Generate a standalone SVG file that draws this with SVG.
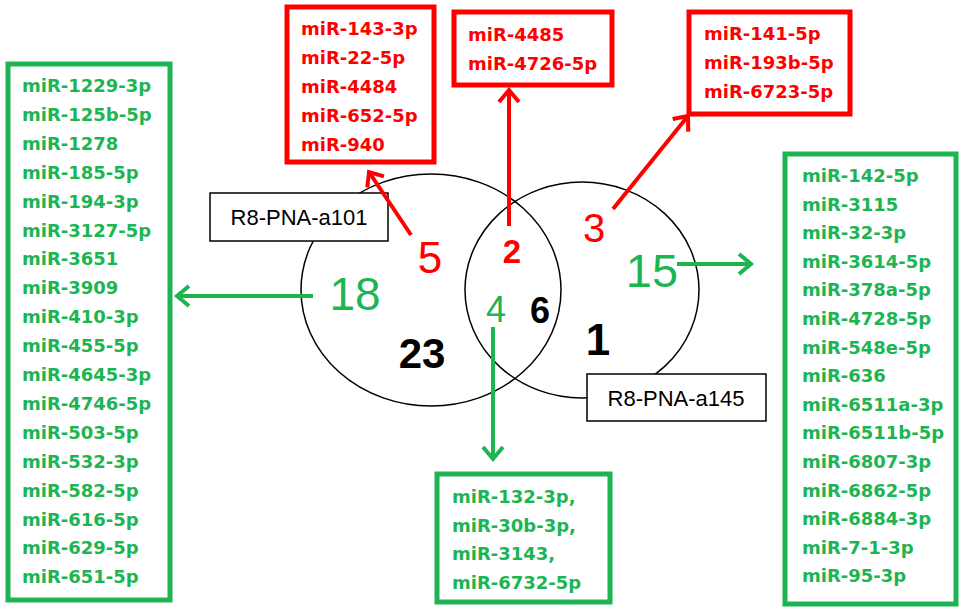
<svg xmlns="http://www.w3.org/2000/svg" width="963" height="608" viewBox="0 0 963 608">
<style>
.mir{font-family:"DejaVu Sans","Liberation Sans",sans-serif;font-weight:bold;font-size:18px}
.r{fill:#ff0000}
.g{fill:#1db452}
.rbox{fill:#ffffff;stroke:#ff0000;stroke-width:5}
.gbox{fill:#ffffff;stroke:#1db452;stroke-width:5}
.lbl{fill:#ffffff;stroke:#000000;stroke-width:1.5}
.lt{font-family:"Liberation Sans",Arial,sans-serif;font-size:22px;fill:#000000;text-anchor:middle}
.num{font-family:"Liberation Sans",Arial,sans-serif;text-anchor:middle}
.ven{fill:none;stroke:#000000;stroke-width:1.5}
.ra{stroke:#ff0000;stroke-width:4;fill:none}
.ga{stroke:#1db452;stroke-width:4;fill:none}
</style>
<defs>
<marker id="mr" viewBox="-16 -14 20 28" refX="0" refY="0" markerWidth="20" markerHeight="28" markerUnits="userSpaceOnUse" orient="auto">
<path d="M-12,-10 L0,0 L-12,10" fill="none" stroke="#ff0000" stroke-width="4"/>
</marker>
<marker id="mg" viewBox="-16 -14 20 28" refX="0" refY="0" markerWidth="20" markerHeight="28" markerUnits="userSpaceOnUse" orient="auto">
<path d="M-12,-10 L0,0 L-12,10" fill="none" stroke="#1db452" stroke-width="4"/>
</marker>
</defs>
<rect width="963" height="608" fill="#ffffff"/>

<g id="venn">
<ellipse class="ven" cx="431" cy="290" rx="130" ry="116"/>
<ellipse class="ven" cx="582" cy="290" rx="117" ry="108"/>
</g>

<g id="label-a101">
<rect class="lbl" x="210" y="193" width="178" height="48"/>
<text class="lt" x="299" y="225">R8-PNA-a101</text>
</g>
<g id="label-a145">
<rect class="lbl" x="587" y="374" width="179" height="47"/>
<text class="lt" x="676" y="406">R8-PNA-a145</text>
</g>

<g id="connectors">
<line class="ra" x1="411" y1="235" x2="369" y2="172" marker-end="url(#mr)"/>
<line class="ra" x1="509" y1="226" x2="509" y2="90" marker-end="url(#mr)"/>
<line class="ra" x1="613" y1="209" x2="688" y2="116" marker-end="url(#mr)"/>
<line class="ga" x1="313" y1="296" x2="177" y2="296" marker-end="url(#mg)"/>
<line class="ga" x1="677" y1="264" x2="751" y2="264" marker-end="url(#mg)"/>
<line class="ga" x1="493" y1="327" x2="493" y2="459" marker-end="url(#mg)"/>
</g>

<g id="counts">
<text class="num r" x="430" y="273" font-size="44">5</text>
<text class="num r" x="512" y="263" font-size="33" font-weight="bold">2</text>
<text class="num r" x="594" y="242" font-size="40">3</text>
<text class="num g" x="652" y="287" font-size="47">15</text>
<text class="num g" x="355" y="310" font-size="46">18</text>
<text class="num g" x="496" y="322" font-size="36">4</text>
<text class="num" x="540" y="323" font-size="36" font-weight="bold">6</text>
<text class="num" x="422" y="368" font-size="42" font-weight="bold">23</text>
<text class="num" x="598" y="355" font-size="44" font-weight="bold">1</text>
</g>

<g id="box-left">
<rect class="gbox" x="8" y="64" width="162" height="536"/>
<text class="mir g">
<tspan x="22" y="92">miR-1229-3p</tspan>
<tspan x="22" y="120.9">miR-125b-5p</tspan>
<tspan x="22" y="149.8">miR-1278</tspan>
<tspan x="22" y="178.7">miR-185-5p</tspan>
<tspan x="22" y="207.6">miR-194-3p</tspan>
<tspan x="22" y="236.5">miR-3127-5p</tspan>
<tspan x="22" y="265.4">miR-3651</tspan>
<tspan x="22" y="294.3">miR-3909</tspan>
<tspan x="22" y="323.2">miR-410-3p</tspan>
<tspan x="22" y="352.1">miR-455-5p</tspan>
<tspan x="22" y="381">miR-4645-3p</tspan>
<tspan x="22" y="409.9">miR-4746-5p</tspan>
<tspan x="22" y="438.8">miR-503-5p</tspan>
<tspan x="22" y="467.7">miR-532-3p</tspan>
<tspan x="22" y="496.6">miR-582-5p</tspan>
<tspan x="22" y="525.5">miR-616-5p</tspan>
<tspan x="22" y="554.4">miR-629-5p</tspan>
<tspan x="22" y="583.3">miR-651-5p</tspan>
</text>
</g>

<g id="box-5">
<rect class="rbox" x="287" y="7" width="147" height="155"/>
<text class="mir r">
<tspan x="301" y="35">miR-143-3p</tspan>
<tspan x="301" y="64">miR-22-5p</tspan>
<tspan x="301" y="93">miR-4484</tspan>
<tspan x="301" y="122">miR-652-5p</tspan>
<tspan x="301" y="151">miR-940</tspan>
</text>
</g>

<g id="box-2">
<rect class="rbox" x="454" y="12" width="158" height="73"/>
<text class="mir r">
<tspan x="468" y="41">miR-4485</tspan>
<tspan x="468" y="70">miR-4726-5p</tspan>
</text>
</g>

<g id="box-3">
<rect class="rbox" x="689" y="12" width="161" height="102"/>
<text class="mir r">
<tspan x="704" y="40">miR-141-5p</tspan>
<tspan x="704" y="69">miR-193b-5p</tspan>
<tspan x="704" y="98">miR-6723-5p</tspan>
</text>
</g>

<g id="box-right">
<rect class="gbox" x="785" y="154" width="171" height="450"/>
<text class="mir g">
<tspan x="802" y="182">miR-142-5p</tspan>
<tspan x="802" y="210.6">miR-3115</tspan>
<tspan x="802" y="239.2">miR-32-3p</tspan>
<tspan x="802" y="267.8">miR-3614-5p</tspan>
<tspan x="802" y="296.4">miR-378a-5p</tspan>
<tspan x="802" y="325">miR-4728-5p</tspan>
<tspan x="802" y="353.6">miR-548e-5p</tspan>
<tspan x="802" y="382.2">miR-636</tspan>
<tspan x="802" y="410.8">miR-6511a-3p</tspan>
<tspan x="802" y="439.4">miR-6511b-5p</tspan>
<tspan x="802" y="468">miR-6807-3p</tspan>
<tspan x="802" y="496.6">miR-6862-5p</tspan>
<tspan x="802" y="525.2">miR-6884-3p</tspan>
<tspan x="802" y="553.8">miR-7-1-3p</tspan>
<tspan x="802" y="582.4">miR-95-3p</tspan>
</text>
</g>

<g id="box-4">
<rect class="gbox" x="437" y="474" width="173" height="128"/>
<text class="mir g">
<tspan x="452" y="503">miR-132-3p,</tspan>
<tspan x="452" y="531.5">miR-30b-3p,</tspan>
<tspan x="452" y="560">miR-3143,</tspan>
<tspan x="452" y="588.5">miR-6732-5p</tspan>
</text>
</g>
</svg>
